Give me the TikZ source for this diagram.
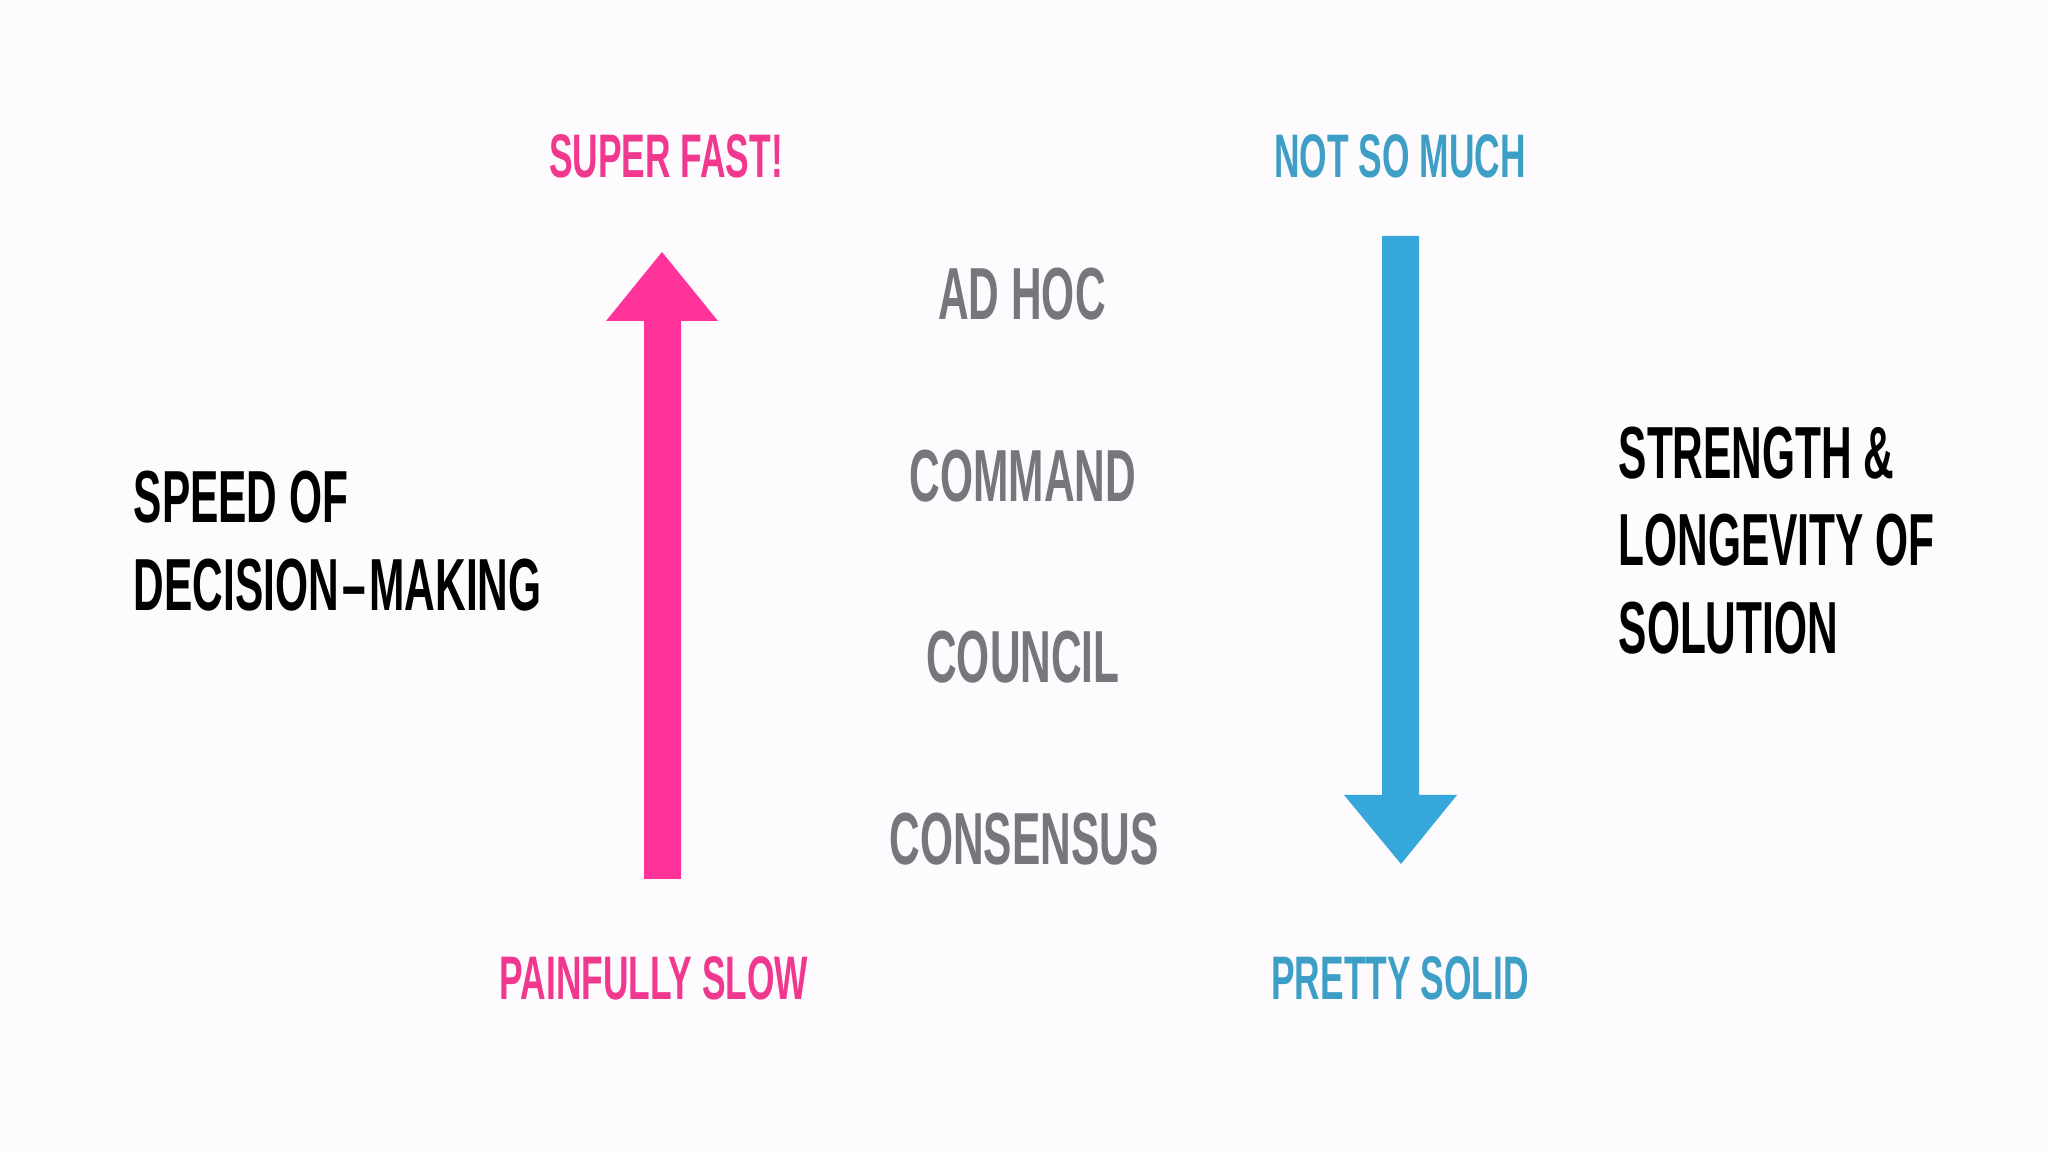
\documentclass[tikz,border=0pt]{standalone}
\usepackage{fontspec}
\newfontfamily\dinfont[FakeStretch=0.575]{Liberation Sans Bold}
\definecolor{bgc}{RGB}{253,251,253}
\definecolor{pinkc}{RGB}{255,51,153}
\definecolor{pinktxt}{RGB}{240,56,143}
\definecolor{bluec}{RGB}{53,167,219}
\definecolor{bluetxt}{RGB}{62,159,198}
\definecolor{grayc}{RGB}{119,118,123}
\tikzset{
  lbl/.style={inner sep=0pt, anchor=base, font=\dinfont\fontsize{17.5pt}{17.5pt}\selectfont},
  mid/.style={inner sep=0pt, anchor=base, text=grayc, font=\dinfont\fontsize{21pt}{21pt}\selectfont},
  big/.style={inner sep=0pt, anchor=base west, text=black, font=\dinfont\fontsize{21pt}{21pt}\selectfont},
}
\begin{document}
\begin{tikzpicture}[x=0.1mm,y=-0.1mm]
\fill[bgc] (0,0) rectangle (2048,1152);
\useasboundingbox (0,0) rectangle (2048,1152);
% pink arrow
\coordinate (ptip) at (662,252);
\fill[pinkc] (ptip) -- (718,321) -- (681,321) -- (681,879) -- (644,879) -- (644,321) -- (606,321) -- cycle;
% blue arrow
\coordinate (btip) at (1401,864);
\fill[bluec] (1382,236) -- (1419,236) -- (1419,795) -- (1457,795) -- (btip) -- (1344,795) -- (1382,795) -- cycle;
% labels
\node[lbl, text=pinktxt] (fast) at (666,178) {SUPER FAST!};
\node[lbl, text=bluetxt] (notmuch) at (1400,178) {NOT SO MUCH};
\node[lbl, text=pinktxt] (slow) at (654,1000) {PAINFULLY SLOW};
\node[lbl, text=bluetxt] (solid) at (1400,1000) {PRETTY SOLID};
\node[mid] (adhoc) at (1022,320) {AD HOC};
\node[mid] (command) at (1023,501.5) {COMMAND};
\node[mid] (council) at (1023,683) {COUNCIL};
\node[mid] (consensus) at (1024,864.5) {CONSENSUS};
\node[big] (speed1) at (133,523) {SPEED OF};
\node[big] (speed2) at (133,611) {DECISION\kern1pt–\kern1pt MAKING};
\node[big] (str1) at (1618,479) {STRENGTH \&};
\node[big] (str2) at (1618,566) {LONGEVITY OF};
\node[big] (str3) at (1618,654) {SOLUTION};
\end{tikzpicture}
\end{document}
